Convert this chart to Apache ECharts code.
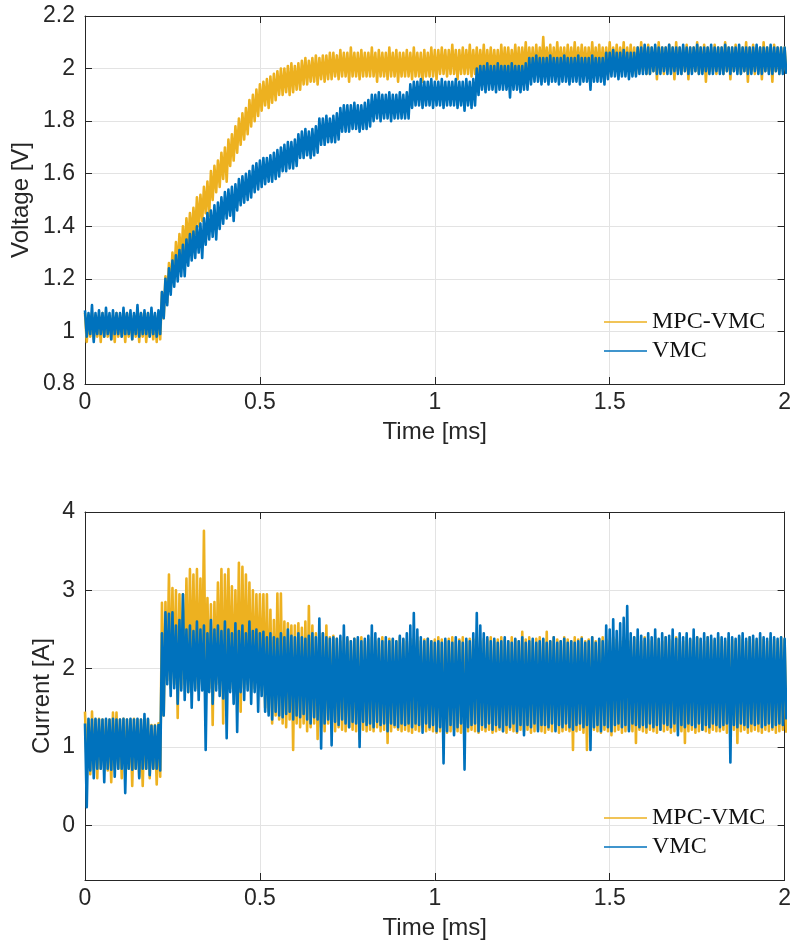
<!DOCTYPE html>
<html><head><meta charset="utf-8">
<script src="https://cdn.jsdelivr.net/npm/echarts@6/dist/echarts.min.js"></script>
<style>html,body{margin:0;padding:0;background:#fff}#c{width:794px;height:944px}</style>
</head><body><div id="c"></div>
<script>
// ---------------- data (envelope of each signal per 0.01 ms bin) ----------------
const seriesNames = ['MPC-VMC', 'VMC'];
const sampleStepMs = 0.01;            // bin width of the envelope arrays (t = 0 ... 2 ms)
const xTicks = [0, 0.5, 1, 1.5, 2];
const voltageTicks = [0.8, 1, 1.2, 1.4, 1.6, 1.8, 2, 2.2];
const currentTicks = [0, 1, 2, 3, 4];

// Voltage, MPC-VMC (upper / lower envelope)
const voltMpcHi = [
1.07,1.06,1.07,1.06,1.06,1.07,1.06,1.06,1.06,1.07,1.06,1.06,1.07,1.06,1.06,1.06,1.07,1.06,1.07,1.06,1.06,1.07,
1.15,1.21,1.26,1.30,1.34,1.37,1.40,1.43,1.45,1.47,1.51,1.52,1.55,1.57,1.61,1.63,1.65,1.68,1.70,1.73,1.75,1.78,1.81,1.83,1.85,1.88,1.90,1.92,1.94,
1.95,1.96,1.97,1.98,1.99,2.00,2.00,2.01,2.02,2.01,
2.02,2.03,2.04,2.03,2.04,2.05,2.04,2.05,2.05,2.06,
2.06,2.05,2.07,2.06,2.06,2.08,2.06,2.06,2.07,2.06,
2.06,2.08,2.06,2.07,2.06,2.06,2.08,2.06,2.07,2.06,
2.06,2.07,2.06,2.08,2.06,2.06,2.07,2.06,2.08,2.07,
2.07,2.08,2.07,2.07,2.09,2.07,2.07,2.08,2.07,2.09,
2.07,2.08,2.07,2.09,2.07,2.08,2.07,2.07,2.09,2.08,
2.08,2.07,2.09,2.08,2.08,2.10,2.08,2.08,2.09,2.08,
2.12,2.08,2.09,2.08,2.10,2.08,2.08,2.09,2.08,2.10,
2.08,2.09,2.08,2.08,2.10,2.08,2.09,2.08,2.08,2.10,
2.08,2.09,2.08,2.10,2.08,2.09,2.08,2.08,2.10,2.08,
2.09,2.08,2.08,2.10,2.08,2.08,2.09,2.08,2.10,2.08,
2.08,2.09,2.08,2.08,2.10,2.08,2.09,2.08,2.08,2.09,
2.08,2.08,2.10,2.08,2.08,2.09,2.08,2.08,2.10,2.08,
2.09,2.08,2.08,2.10,2.08,2.08,2.09,2.08,2.08,2.08];
const voltMpcLo = [
0.96,0.98,0.97,0.98,0.96,0.98,0.98,0.97,0.96,0.98,0.98,0.96,0.98,0.97,0.98,0.96,0.98,0.96,0.98,0.97,0.96,0.97,
1.05,1.11,1.16,1.20,1.24,1.27,1.30,1.33,1.35,1.37,1.40,1.42,1.45,1.44,1.50,1.53,1.55,1.58,1.57,1.63,1.65,1.68,1.71,1.73,1.75,1.78,1.80,1.82,1.84,
1.86,1.85,1.87,1.88,1.90,1.90,1.91,1.90,1.91,1.92,
1.92,1.94,1.94,1.95,1.95,1.94,1.96,1.95,1.96,1.96,
1.97,1.96,1.97,1.97,1.95,1.97,1.97,1.96,1.97,1.97,
1.97,1.97,1.95,1.97,1.97,1.96,1.97,1.97,1.95,1.97,
1.97,1.97,1.96,1.97,1.97,1.95,1.97,1.97,1.97,1.96,
1.98,1.98,1.97,1.98,1.98,1.96,1.98,1.98,1.98,1.97,
1.98,1.98,1.98,1.97,1.98,1.98,1.98,1.96,1.98,1.98,
1.98,1.99,1.98,1.98,1.99,1.98,1.99,1.98,1.99,1.99,
1.99,1.99,1.98,1.99,1.99,1.99,1.98,1.99,1.99,1.99,
1.99,1.99,1.99,1.98,1.99,1.99,1.99,1.99,1.98,1.99,
1.99,1.99,1.99,1.98,1.99,1.99,1.98,1.99,1.99,1.98,
1.98,1.99,1.96,1.99,1.98,1.99,1.99,1.96,1.99,1.98,
1.99,1.96,1.99,1.99,1.98,1.99,1.95,1.99,1.99,1.98,
1.99,1.98,1.99,1.96,1.99,1.99,1.98,1.99,1.95,1.99,
1.98,1.99,1.96,1.99,1.99,1.95,1.99,1.98,1.99,1.98];

// Voltage, VMC
const voltVmcHi = [
1.08,1.07,1.10,1.07,1.08,1.07,1.09,1.07,1.08,1.07,1.07,1.09,1.07,1.08,1.07,1.10,1.07,1.08,1.07,1.09,1.07,1.08,
1.15,1.20,1.24,1.27,1.29,1.31,1.33,1.35,1.37,1.38,1.40,1.41,1.43,1.45,1.46,1.48,1.49,1.51,1.53,1.54,1.55,1.56,1.58,1.59,1.60,1.61,1.63,1.64,1.65,
1.66,1.66,1.67,1.68,1.69,1.70,1.71,1.72,1.72,1.73,
1.75,1.76,1.77,1.76,1.77,1.78,1.81,1.81,1.82,1.81,
1.82,1.83,1.85,1.86,1.86,1.86,1.87,1.86,1.86,1.87,
1.88,1.90,1.90,1.91,1.90,1.90,1.91,1.90,1.90,1.91,
1.90,1.91,1.94,1.95,1.95,1.96,1.95,1.95,1.96,1.95,
1.95,1.96,1.95,1.95,1.95,1.96,1.95,1.95,1.96,1.95,
1.96,2.00,2.01,2.01,2.02,2.01,2.01,2.02,2.01,2.01,
2.01,2.02,2.01,2.01,2.01,2.02,2.04,2.04,2.05,2.04,
2.04,2.04,2.05,2.04,2.04,2.04,2.05,2.04,2.04,2.04,
2.05,2.04,2.04,2.04,2.05,2.04,2.04,2.04,2.06,2.06,
2.07,2.06,2.06,2.07,2.06,2.06,2.06,2.08,2.08,2.09,
2.08,2.08,2.09,2.08,2.08,2.08,2.09,2.08,2.08,2.08,
2.09,2.08,2.08,2.08,2.09,2.08,2.08,2.08,2.09,2.08,
2.08,2.08,2.09,2.08,2.08,2.08,2.09,2.08,2.08,2.08,
2.08,2.09,2.08,2.08,2.08,2.09,2.08,2.08,2.08,2.08];
const voltVmcLo = [
0.98,0.99,0.96,0.99,0.99,0.98,0.99,0.97,0.99,0.99,0.98,0.99,0.99,0.97,0.99,0.98,0.99,0.99,0.98,0.99,0.98,0.99,
1.05,1.10,1.14,1.17,1.19,1.21,1.21,1.25,1.27,1.28,1.30,1.28,1.33,1.35,1.36,1.35,1.39,1.41,1.43,1.44,1.42,1.46,1.48,1.49,1.50,1.51,1.53,1.54,1.55,
1.56,1.57,1.57,1.58,1.59,1.61,1.61,1.62,1.62,1.63,
1.66,1.66,1.67,1.66,1.67,1.68,1.71,1.71,1.72,1.72,
1.72,1.73,1.76,1.76,1.76,1.77,1.77,1.76,1.77,1.77,
1.78,1.80,1.81,1.80,1.81,1.81,1.80,1.81,1.81,1.81,
1.81,1.81,1.85,1.86,1.86,1.85,1.86,1.86,1.85,1.86,
1.86,1.85,1.86,1.86,1.86,1.85,1.86,1.84,1.86,1.85,
1.86,1.90,1.92,1.91,1.92,1.92,1.91,1.92,1.92,1.92,
1.89,1.92,1.92,1.91,1.92,1.92,1.94,1.95,1.95,1.94,
1.95,1.94,1.95,1.95,1.94,1.95,1.95,1.94,1.95,1.95,
1.94,1.95,1.95,1.92,1.95,1.95,1.95,1.94,1.96,1.97,
1.97,1.96,1.97,1.97,1.96,1.97,1.97,1.98,1.98,1.98,
1.98,1.99,1.98,1.98,1.99,1.98,1.98,1.99,1.98,1.98,
1.99,1.98,1.98,1.99,1.98,1.98,1.99,1.98,1.98,1.99,
1.98,1.98,1.99,1.98,1.99,1.98,1.98,1.99,1.98,1.98,
1.99,1.98,1.98,1.99,1.98,1.98,1.99,1.98,1.98,1.98];

// Current, MPC-VMC
const currMpcHi = [
1.45,1.35,1.45,1.35,1.36,1.35,1.35,1.35,1.44,1.44,1.35,1.36,1.35,1.35,1.36,1.35,1.35,1.36,1.35,1.28,1.28,1.30,
2.84,2.85,3.20,3.03,3.00,2.95,2.95,3.15,3.27,3.20,3.27,3.15,3.76,2.90,2.82,2.85,3.10,3.27,3.20,3.27,3.05,3.00,3.35,3.30,3.20,3.10,3.00,2.95,2.95,
2.95,2.95,2.75,2.62,2.96,2.96,2.60,2.58,2.55,2.55,
2.58,2.52,2.60,2.80,2.55,2.45,2.40,2.45,2.55,2.40,
2.42,2.38,2.35,2.40,2.37,2.35,2.38,2.37,2.40,2.35,
2.37,2.40,2.35,2.37,2.40,2.35,2.38,2.37,2.35,2.40,
2.37,2.35,2.38,2.37,2.40,2.35,2.37,2.38,2.35,2.37,
2.40,2.37,2.35,2.38,2.40,2.35,2.37,2.40,2.35,2.38,
2.37,2.40,2.35,2.38,2.37,2.40,2.35,2.37,2.40,2.37,
2.35,2.40,2.37,2.35,2.47,2.37,2.40,2.35,2.38,2.40,
2.37,2.47,2.35,2.40,2.37,2.35,2.40,2.37,2.35,2.40,
2.37,2.40,2.35,2.37,2.40,2.35,2.37,2.40,2.37,2.35,
2.40,2.37,2.35,2.40,2.37,2.35,2.40,2.37,2.35,2.40,
2.37,2.35,2.40,2.37,2.35,2.40,2.37,2.35,2.40,2.37,
2.35,2.40,2.37,2.35,2.40,2.37,2.35,2.40,2.37,2.35,
2.40,2.37,2.35,2.40,2.37,2.35,2.40,2.37,2.35,2.40,
2.37,2.35,2.40,2.37,2.35,2.40,2.37,2.35,2.40,2.37];
const currMpcLo = [
0.72,0.65,0.72,0.60,0.72,0.72,0.70,0.55,0.72,0.72,0.60,0.72,0.72,0.50,0.72,0.62,0.50,0.72,0.60,0.72,0.52,0.62,
1.40,1.85,1.75,1.80,1.37,1.75,1.80,1.70,1.80,1.75,1.72,1.80,1.60,1.75,1.28,1.80,1.75,1.30,1.80,1.75,1.70,1.80,1.45,1.75,1.80,1.70,1.75,1.80,1.72,
1.50,1.45,1.30,1.40,1.35,1.30,1.25,1.35,0.96,1.30,
1.25,1.30,1.20,1.25,1.30,1.10,1.25,1.20,1.30,1.25,
1.20,1.25,1.22,1.20,1.25,1.22,1.20,1.10,1.22,1.20,
1.22,1.20,1.25,1.20,1.22,1.05,1.20,1.25,1.22,1.20,
1.22,1.20,1.18,1.22,1.20,1.25,1.20,1.22,1.20,1.18,
1.20,1.22,1.18,1.20,1.22,1.20,1.18,1.22,1.20,1.22,
1.20,1.18,1.22,1.20,1.22,1.18,1.20,1.22,1.20,1.18,
1.22,1.20,1.18,1.22,1.20,1.22,1.18,1.20,1.22,1.20,
1.18,1.22,1.20,1.22,1.18,1.20,1.22,1.20,0.96,1.20,
1.22,1.18,0.96,1.20,1.22,1.20,1.18,1.22,1.20,1.15,
1.20,1.22,1.18,1.20,1.22,1.20,1.05,1.22,1.20,1.18,
1.22,1.20,1.18,1.22,1.20,1.22,1.18,1.20,1.22,1.20,
1.05,1.20,1.22,1.18,1.20,1.22,1.20,1.18,1.22,1.20,
1.20,1.22,1.18,1.20,1.22,1.05,1.20,1.22,1.18,1.20,
1.22,1.20,1.18,1.22,1.20,1.22,1.18,1.20,1.22,1.18];

// Current, VMC
const currVmcHi = [
1.30,1.36,1.35,1.36,1.35,1.35,1.36,1.35,1.36,1.35,1.35,1.36,1.35,1.36,1.35,1.36,1.35,1.42,1.36,1.27,1.27,1.28,
2.45,2.72,2.70,2.72,2.55,2.62,2.95,2.50,2.55,2.48,2.60,2.50,2.55,2.45,2.62,2.50,2.55,2.48,2.60,2.50,2.45,2.58,2.48,2.55,2.45,2.60,2.48,2.50,2.45,
2.47,2.40,2.45,2.40,2.38,2.45,2.40,2.50,2.42,2.40,
2.45,2.40,2.38,2.42,2.45,2.40,2.64,2.45,2.40,2.38,
2.40,2.38,2.42,2.55,2.40,2.35,2.38,2.40,2.35,2.38,
2.42,2.55,2.45,2.38,2.35,2.40,2.35,2.38,2.35,2.42,
2.38,2.45,2.55,2.71,2.50,2.40,2.35,2.38,2.35,2.33,
2.35,2.33,2.38,2.35,2.33,2.40,2.35,2.33,2.38,2.35,
2.45,2.71,2.55,2.45,2.40,2.35,2.38,2.33,2.35,2.40,
2.35,2.33,2.38,2.35,2.40,2.33,2.35,2.38,2.33,2.35,
2.38,2.33,2.35,2.40,2.33,2.35,2.38,2.33,2.35,2.33,
2.35,2.38,2.33,2.35,2.40,2.33,2.38,2.35,2.55,2.50,
2.63,2.48,2.58,2.65,2.80,2.45,2.40,2.50,2.42,2.38,
2.45,2.40,2.50,2.38,2.45,2.40,2.42,2.50,2.38,2.45,
2.40,2.45,2.38,2.50,2.40,2.38,2.45,2.40,2.42,2.38,
2.45,2.40,2.38,2.45,2.40,2.38,2.42,2.45,2.38,2.40,
2.42,2.38,2.45,2.40,2.38,2.45,2.40,2.38,2.40,2.38];
const currVmcLo = [
0.23,0.70,0.60,0.72,0.72,0.55,0.72,0.71,0.62,0.72,0.72,0.41,0.72,0.71,0.72,0.60,0.72,0.72,0.64,0.72,0.72,0.70,
1.40,1.80,1.65,1.75,1.55,1.72,1.60,1.70,1.50,1.72,1.60,1.72,0.96,1.70,1.55,1.72,1.65,1.62,1.11,1.70,1.55,1.19,1.70,1.60,1.72,1.55,1.70,1.45,1.65,
1.45,1.40,1.35,1.45,1.40,1.38,1.42,1.45,1.35,1.40,
1.38,1.42,1.35,1.30,1.38,1.35,0.98,1.30,1.35,1.02,
1.32,1.28,1.35,1.30,1.25,1.32,1.30,1.00,1.32,1.28,
1.30,1.25,1.32,1.28,1.30,1.20,1.30,1.28,1.25,1.30,
1.28,1.30,1.25,1.30,1.28,1.18,1.30,1.25,1.28,1.20,
1.25,0.79,1.20,1.28,1.15,1.25,1.30,0.71,1.25,1.28,
1.30,1.20,1.28,1.25,1.30,1.22,1.28,1.25,1.20,1.28,
1.25,1.30,1.20,1.28,1.15,1.28,1.25,1.30,1.20,1.28,
1.28,1.25,1.30,1.20,1.28,1.25,1.30,1.25,1.22,1.28,
1.30,1.25,1.28,0.96,1.25,1.28,1.20,1.28,1.25,1.20,
1.28,1.30,1.25,1.28,1.20,1.30,1.28,1.25,1.28,1.25,
1.30,1.25,1.28,1.22,1.30,1.28,1.25,1.30,1.15,1.28,
1.25,1.30,1.28,1.25,1.30,1.22,1.28,1.25,1.30,1.28,
1.25,1.28,1.30,0.80,1.28,1.25,1.30,1.28,1.25,1.30,
1.28,1.30,1.25,1.28,1.30,1.25,1.28,1.30,1.28,1.35];

// ---------------- build ----------------
const ORANGE = '#EDB120', BLUE = '#0072BD';
function envelopeTrace(hi, lo) {
  const d = [];
  for (let i = 0; i < hi.length; i++) {
    const t = Math.round(i * sampleStepMs * 1000) / 1000;
    d.push([t, hi[i]]);
    d.push([Math.round((t + sampleStepMs / 2) * 10000) / 10000, lo[i]]);
  }
  return d;
}
const AX = '#262626';
const sans = 'Liberation Sans';
function xAxes(g) {
  return [{
    gridIndex: g, type: 'value', min: 0, max: 2, position: 'bottom',
    axisLine: { show: true, onZero: false, lineStyle: { color: AX, width: 1 } },
    axisTick: { show: true, inside: true, length: 7, customValues: xTicks, lineStyle: { color: AX } },
    axisLabel: { margin: 7, customValues: xTicks, fontFamily: sans, fontSize: 23, color: AX },
    splitLine: { show: true, lineStyle: { color: '#e3e3e3', width: 1 } },
    name: 'Time [ms]', nameLocation: 'middle', nameGap: 36, nameMoveOverlap: false,
    nameTextStyle: { fontFamily: sans, fontSize: 24, color: AX }
  }, {
    gridIndex: g, type: 'value', min: 0, max: 2, position: 'top',
    axisLine: { show: true, onZero: false, lineStyle: { color: AX, width: 1 } },
    axisTick: { show: true, inside: true, length: 7, customValues: xTicks, lineStyle: { color: AX } },
    axisLabel: { show: false }, splitLine: { show: false }
  }];
}
function yAxes(g, min, max, ticks, name, gap) {
  return [{
    gridIndex: g, type: 'value', min: min, max: max, position: 'left',
    axisLine: { show: true, onZero: false, lineStyle: { color: AX, width: 1 } },
    axisTick: { show: true, inside: true, length: 7, customValues: ticks, lineStyle: { color: AX } },
    axisLabel: { margin: 10, customValues: ticks, fontFamily: sans, fontSize: 23, color: AX },
    splitLine: { show: true, lineStyle: { color: '#e3e3e3', width: 1 } },
    name: name, nameLocation: 'middle', nameGap: gap, nameMoveOverlap: false,
    nameTextStyle: { fontFamily: sans, fontSize: 24, color: AX }
  }, {
    gridIndex: g, type: 'value', min: min, max: max, position: 'right',
    axisLine: { show: true, onZero: false, lineStyle: { color: AX, width: 1 } },
    axisTick: { show: true, inside: true, length: 7, customValues: ticks, lineStyle: { color: AX } },
    axisLabel: { show: false }, splitLine: { show: false }
  }];
}
function trace(name, color, xi, yi, hi, lo) {
  return {
    type: 'line', name: name, xAxisIndex: xi, yAxisIndex: yi,
    data: envelopeTrace(hi, lo), showSymbol: false, symbol: 'none',
    lineStyle: { width: 2.6, color: color, join: 'round' }, itemStyle: { color: color },
    animation: false, silent: true, clip: true
  };
}
function legendAt(top) {
  return {
    data: seriesNames, orient: 'vertical', left: 599, top: top,
    icon: 'rect', itemWidth: 43, itemHeight: 1.5, itemGap: 5, selectedMode: false,
    textStyle: { fontFamily: 'Liberation Serif', fontSize: 24, color: '#111' }
  };
}
const chart = echarts.init(document.getElementById('c'), null, { renderer: 'canvas' });
chart.setOption({
  animation: false,
  backgroundColor: '#fff',
  grid: [
    { left: 85, top: 16, width: 703, height: 368 },
    { left: 85, top: 512, width: 703, height: 368 }
  ],
  xAxis: [...xAxes(0), ...xAxes(1)],
  yAxis: [...yAxes(0, 0.8, 2.2, voltageTicks, 'Voltage [V]', 52), ...yAxes(1, -0.7, 4, currentTicks, 'Current [A]', 31)],
  legend: [legendAt(305), legendAt(801)],
  series: [
    trace('MPC-VMC', ORANGE, 0, 0, voltMpcHi, voltMpcLo),
    trace('VMC', BLUE, 0, 0, voltVmcHi, voltVmcLo),
    trace('MPC-VMC', ORANGE, 2, 2, currMpcHi, currMpcLo),
    trace('VMC', BLUE, 2, 2, currVmcHi, currVmcLo)
  ]
});
</script></body></html>
